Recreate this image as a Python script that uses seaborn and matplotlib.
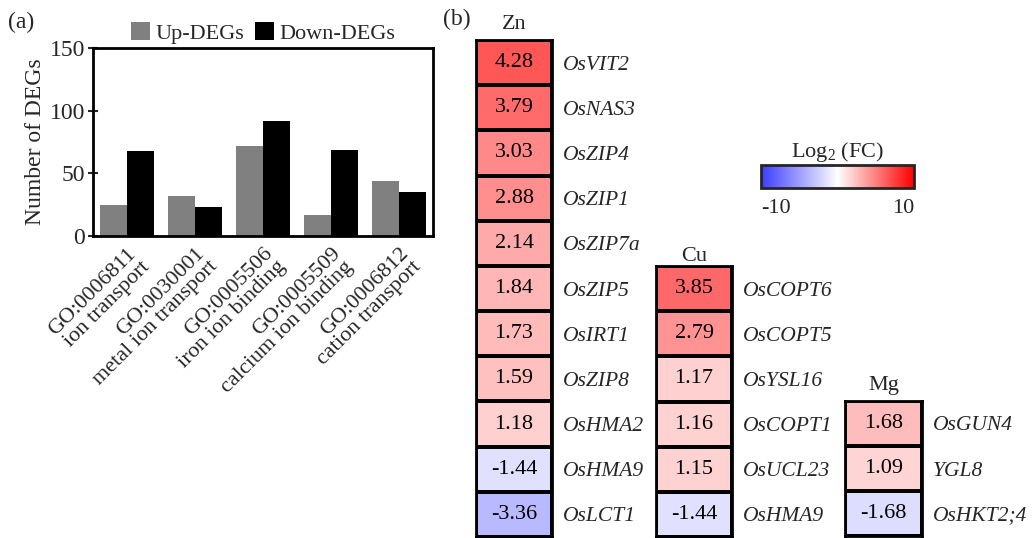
import matplotlib
matplotlib.use("Agg")
import matplotlib.pyplot as plt
import seaborn as sns
import pandas as pd
import numpy as np
from matplotlib.colors import LinearSegmentedColormap, TwoSlopeNorm, Normalize
from matplotlib.cm import ScalarMappable

# ---------------- data ----------------
go_terms = ["GO:0006811\nion transport", "GO:0030001\nmetal ion transport",
            "GO:0005506\niron ion binding", "GO:0005509\ncalcium ion binding",
            "GO:0006812\ncation transport"]
up_degs = [25, 32, 72, 17, 44]
down_degs = [68, 23, 92, 69, 35]
y_ticks = [0, 50, 100, 150]

zn_genes = ["OsVIT2", "OsNAS3", "OsZIP4", "OsZIP1", "OsZIP7a", "OsZIP5",
            "OsIRT1", "OsZIP8", "OsHMA2", "OsHMA9", "OsLCT1"]
zn_fc = [4.28, 3.79, 3.03, 2.88, 2.14, 1.84, 1.73, 1.59, 1.18, -1.44, -3.36]
cu_genes = ["OsCOPT6", "OsCOPT5", "OsYSL16", "OsCOPT1", "OsUCL23", "OsHMA9"]
cu_fc = [3.85, 2.79, 1.17, 1.16, 1.15, -1.44]
mg_genes = ["OsGUN4", "YGL8", "OsHKT2;4"]
mg_fc = [1.68, 1.09, -1.68]
cbar_ticks = [-10, 10]

# ---------------- style ----------------
sns.set_style("white")
plt.rcParams["font.family"] = ["Liberation Serif", "DejaVu Serif"]
plt.rcParams["mathtext.fontset"] = "custom"
plt.rcParams["mathtext.rm"] = "Liberation Serif"
plt.rcParams["mathtext.it"] = "Liberation Serif:italic"
FS = 15

W, H = 1034, 538
fig = plt.figure(figsize=(W / 100, H / 100), dpi=100)


def px(l, t, r, b):
    return [l / W, 1 - b / H, (r - l) / W, (b - t) / H]


# ---------------- panel (a) ----------------
ax = fig.add_axes(px(93, 48, 433, 236))
df = pd.DataFrame({
    "term": go_terms * 2,
    "count": up_degs + down_degs,
    "type": ["Up-DEGs"] * len(go_terms) + ["Down-DEGs"] * len(go_terms),
})
sns.barplot(data=df, x="term", y="count", hue="type",
            palette={"Up-DEGs": "#808080", "Down-DEGs": "#000000"},
            saturation=1, width=0.8, edgecolor="none", ax=ax)
ax.set_ylim(0, 150)
ax.set_xlim(-0.5, len(go_terms) - 0.5)
ax.set_yticks(y_ticks)
ax.set_ylabel("Number of DEGs", fontsize=17, labelpad=3)
ax.set_xlabel("")
ax.tick_params(axis="y", direction="inout", length=7, width=1.5,
               labelsize=17, pad=2, left=True)
ax.tick_params(axis="x", length=0, pad=6, labelsize=16)
for lbl in ax.get_xticklabels():
    lbl.set_rotation(45)
    lbl.set_ha("right")
    lbl.set_va("top")
    lbl.set_rotation_mode("anchor")
    lbl.set_linespacing(0.95)
for sp in ax.spines.values():
    sp.set_visible(True)
    sp.set_linewidth(2)
    sp.set_color("black")
ax.legend(loc="lower center", bbox_to_anchor=(0.5, 0.975), ncol=2,
          frameon=False, fontsize=16, handlelength=0.85, handleheight=0.85,
          handletextpad=0.25, columnspacing=0.5, borderaxespad=0.0)

fig.text(8 / W, 1 - 22 / H, "(a)", fontsize=17, va="center", ha="left")
fig.text(443 / W, 1 - 19 / H, "(b)", fontsize=17, va="center", ha="left")

# ---------------- panel (b) ----------------
cell_cmap = LinearSegmentedColormap.from_list(
    "bwr_ref", ["#3c3cff", "#ffffff", "#ff0000"])
cell_norm = TwoSlopeNorm(vmin=-9.5, vcenter=0, vmax=6.5)


def heat(rect, title, genes, vals, tpad):
    hax = fig.add_axes(rect)
    data = pd.DataFrame({title: vals}, index=genes)
    sns.heatmap(data, ax=hax, cmap=cell_cmap, norm=cell_norm, annot=True,
                fmt=".2f", cbar=False, linewidths=1.5, linecolor="black",
                xticklabels=False, yticklabels=genes,
                annot_kws={"fontsize": 16, "color": "black"})
    hax.yaxis.tick_right()
    hax.tick_params(axis="y", length=0, pad=8, labelsize=15.5)
    for lbl in hax.get_yticklabels():
        lbl.set_rotation(0)
        lbl.set_style("italic")
        lbl.set_ha("left")
    hax.set_ylabel("")
    hax.set_title(title, fontsize=16, pad=tpad)
    for sp in hax.spines.values():
        sp.set_visible(True)
        sp.set_linewidth(2)
        sp.set_color("black")
    return hax


heat(px(476, 40, 552, 537), "Zn", zn_genes, zn_fc, 8)
heat(px(656, 266, 732, 537), "Cu", cu_genes, cu_fc, 2)
heat(px(845, 401, 922, 536), "Mg", mg_genes, mg_fc, 8)

# colorbar
cax = fig.add_axes(px(761, 165, 914, 188))
sm = ScalarMappable(norm=Normalize(vmin=-10, vmax=10), cmap=cell_cmap)
cb = fig.colorbar(sm, cax=cax, orientation="horizontal", ticks=cbar_ticks)
cb.outline.set_linewidth(2)
cax.tick_params(length=0, pad=8, labelsize=16)
cax.set_xticklabels([str(t) for t in cbar_ticks])
labels = cax.get_xticklabels()
labels[0].set_ha("left")
labels[-1].set_ha("right")
cax.set_title("Log$_2$ (FC)", fontsize=16, pad=6)

fig.savefig("out.png", dpi=100)
